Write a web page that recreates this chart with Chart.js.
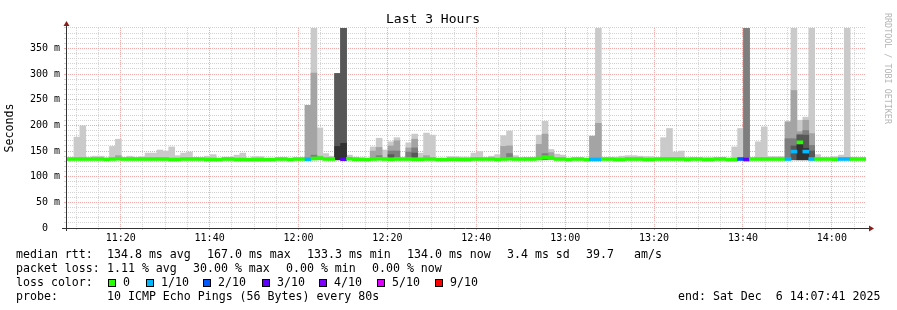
<!DOCTYPE html>
<html>
<head>
<meta charset="utf-8">
<title>Last 3 Hours</title>
<script src="https://cdn.jsdelivr.net/npm/chart.js@4.4.1/dist/chart.umd.min.js"></script>
<style>
  body { margin: 0; background: #fff; }
  #wrap { position: relative; width: 897px; height: 310px; font-family: "DejaVu Sans Mono", monospace; }
  #chart { position: absolute; left: 0; top: 0; }
  .txt { position: absolute; font-size: 11.6px; line-height: 14px; white-space: pre; color: #000; }
  .box { position: absolute; width: 8px; height: 8px; box-sizing: border-box; border: 1px solid #000; }
  #credit { position: absolute; left: 893px; top: 13px; transform: rotate(90deg); transform-origin: 0 0;
            font-size: 8.4px; line-height: 10px; color: #b4b4b4; white-space: pre; }
</style>
</head>
<body>
<div id="wrap">
  <canvas id="chart" width="897" height="310"></canvas>
  <div id="credit">RRDTOOL / TOBI OETIKER</div>
  <div id="footer"></div>
</div>
<script>
const N = null;

// 3 hour window ending Sat Dec 6 14:07:41 2025, one step every 80 s
const windowStart = 11 * 3600 + 7 * 60 + 41;   // seconds after midnight
const windowLength = 3 * 3600;
const step = 80;
const firstStepMid = -13;                      // first step straddles the left edge
const minPing = 133;                           // lower edge of the smoke (ms)

// median rtt per step (ms), null = not drawn
const median = [
  134.5, 134.5, 134.5, 134.5, 134.5, 134.5, 134.5, 134, 134.5, 135,
  134.5, 134.5, 134.5, 134.5, 134.5, 134.5, 134.5, 134.5, 133.5, 133.5,
  134.5, 134.5, 134.5, 134.5, 133.5, 133.5, 133.5, 134.5, 134.5, 133.5,
  133.5, 133.5, 133.5, 133.5, 133.5, 133.5, 134.5, 134.5, 133.5, 134.5,
  134.5, 134, 135.5, 136, 134.5, 134.5, N, 134, 135, 134,
  134, 133.5, 134.5, 135, 134.5, 134, 134.5, 134.5, 134.5, 134,
  134, 134.5, 134.5, 133.5, 133.5, 134, 134, 133.5, 133.5, 134.5,
  134.5, 134.5, 134.5, 133.5, 134.5, 135, 134.5, 134.5, 134.5, 134.5,
  135.5, 138, 136.5, 134.5, 134.5, 133.5, 134.5, 134.5, 133.5, 133.5,
  133.5, 134.5, 134.5, 133.5, 133.5, 134.5, 134.5, 134.5, 133.5, 133.5,
  134.5, 134.5, 134.5, 134.5, 134.5, 133.5, 134.5, 134.5, 133.5, 133.5,
  134.5, 134.5, 133.5, 133.5, 134.5, 133.5, 134.5, 134.5, 134.5, 134.5,
  134.5, 134.5, 134.5, 149, 167, 149, 134.5, 134.5, 134.5, 134.5,
  134, 134.5, 134.5, 134.5, 134.5, 134.5
];

// lost pings out of 10 per step
const loss = [
  0, 0, 0, 0, 0, 0, 0, 0, 0, 0,
  0, 0, 0, 0, 0, 0, 0, 0, 0, 0,
  0, 0, 0, 0, 0, 0, 0, 0, 0, 0,
  0, 0, 0, 0, 0, 0, 0, 0, 0, 0,
  0, 1, 0, 0, 0, 0, 0, 3, 0, 0,
  0, 0, 0, 0, 0, 0, 0, 0, 0, 0,
  0, 0, 0, 0, 0, 0, 0, 0, 0, 0,
  0, 0, 0, 0, 0, 0, 0, 0, 0, 0,
  0, 0, 0, 0, 0, 0, 0, 0, 0, 1,
  1, 0, 0, 0, 0, 0, 0, 0, 0, 0,
  0, 0, 0, 0, 0, 0, 0, 0, 0, 0,
  0, 0, 0, 0, 2, 3, 0, 0, 0, 0,
  0, 0, 1, 1, 0, 1, 1, 0, 0, 0,
  0, 1, 1, 0, 0, 0
];

// smoke: upper edge of each band of sorted pings (ms), outermost first
const smoke1 = [
  N, N, 177, 199, N, 140, 140, N, 159, 173,
  137, 140, 137, 139, 146, 146, 152, 150, 158, 141,
  146, 148, 137, N, 140, 143, N, 138, 138, 142,
  146, N, 139, 139, N, N, N, N, N, N,
  N, 239, 400, 195, 145, 140, 301, 400, 142, 138,
  N, N, 158, 175, 152, 168, 176, N, 166, 183,
  146, 185, 181, N, N, 139, 139, 138, 138, 146,
  149, N, 140, 143, 180, 189, 141, N, 137, 137,
  181, 208, 153, 144, 142, N, N, N, N, 179,
  400, N, N, 138, 140, 141, 141, 140, 139, 139,
  N, 176, 194, 148, 150, 138, N, N, 137, 137,
  N, 138, N, 158, 194, 400, N, 168, 197, 139,
  139, 139, 207, 400, 210, 216, 400, 143, N, N,
  139, 142, 400, 138, 136, N
];
const smoke2 = [
  N, N, N, N, N, N, N, N, N, 141,
  N, N, N, N, N, N, N, N, N, N,
  N, N, N, N, N, N, N, N, N, N,
  N, N, N, N, N, N, N, N, N, N,
  N, 239, 302, 140, N, N, 301, 400, N, N,
  N, N, 150, 157, N, 160, 170, N, 156, 173,
  N, 141, N, N, N, N, N, N, N, N,
  N, N, N, N, 159, 160, N, N, N, N,
  163, 183, 147, N, N, N, N, N, N, 179,
  204, N, N, N, N, N, N, N, N, N,
  N, N, N, N, N, N, N, N, N, N,
  N, N, N, N, N, 400, N, N, N, N,
  N, N, 207, 268, 188, 210, 184, N, N, N,
  N, N, N, N, N, N
];
const smoke3 = [
  N, N, N, N, N, N, N, N, N, N,
  N, N, N, N, N, N, N, N, N, N,
  N, N, N, N, N, N, N, N, N, N,
  N, N, N, N, N, N, N, N, N, N,
  N, N, 142, N, N, N, 301, 400, N, N,
  N, N, N, 141, N, 150, 150, N, 148, 156,
  N, N, N, N, N, N, N, N, N, N,
  N, N, N, N, N, 145, N, N, N, N,
  N, 145, N, N, N, N, N, N, N, N,
  N, N, N, N, N, N, N, N, N, N,
  N, N, N, N, N, N, N, N, N, N,
  N, N, N, N, N, 400, N, N, N, N,
  N, N, 174, 174, 183, 190, 161, N, N, N,
  N, N, N, N, N, N
];
const smoke4 = [
  N, N, N, N, N, N, N, N, N, N,
  N, N, N, N, N, N, N, N, N, N,
  N, N, N, N, N, N, N, N, N, N,
  N, N, N, N, N, N, N, N, N, N,
  N, N, N, N, N, N, 301, 400, N, N,
  N, N, N, N, N, 143, N, N, N, 146,
  N, N, N, N, N, N, N, N, N, N,
  N, N, N, N, N, N, N, N, N, N,
  N, N, N, N, N, N, N, N, N, N,
  N, N, N, N, N, N, N, N, N, N,
  N, N, N, N, N, N, N, N, N, N,
  N, N, N, N, N, N, N, N, N, N,
  N, N, N, 160, 181, 181, 150, N, N, N,
  N, N, N, N, N, N
];
const smoke5 = [
  N, N, N, N, N, N, N, N, N, N,
  N, N, N, N, N, N, N, N, N, N,
  N, N, N, N, N, N, N, N, N, N,
  N, N, N, N, N, N, N, N, N, N,
  N, N, N, N, N, N, 159, 165, N, N,
  N, N, N, N, N, N, N, N, N, N,
  N, N, N, N, N, N, N, N, N, N,
  N, N, N, N, N, N, N, N, N, N,
  N, N, N, N, N, N, N, N, N, N,
  N, N, N, N, N, N, N, N, N, N,
  N, N, N, N, N, N, N, N, N, N,
  N, N, N, N, N, N, N, N, N, N,
  N, N, N, N, 162, 155, N, N, N, N,
  N, N, N, N, N, N
];

const yTicks = [];
for (let v = 0; v <= 390; v += 10) yTicks.push(v);

const lossLevels = [0, 1, 2, 3, 4, 5, 9];
const lossLabels = ['0', '1/10', '2/10', '3/10', '4/10', '5/10', '9/10'];
const lossColors = { 0: '#26ff00', 1: '#00b8ff', 2: '#0059ff', 3: '#5e00ff', 4: '#7e00ff', 5: '#dd00ff', 9: '#ff0000' };

const bandColors = ['#cacaca', '#a4a4a4', '#7e7e7e', '#585858', '#323232'];
const GRID = '#d2d2d2';
const MGRID = '#f0a8a8';
const FONT = "'DejaVu Sans Mono', monospace";

const stepTimes = median.map((m, j) => firstStepMid + j * step);

// grid every 5 minutes, labels every 20
const gridTimes = [];
for (let c = 11 * 3600 + 10 * 60; c <= 14 * 3600 + 5 * 60; c += 300) gridTimes.push(c - windowStart);
const clockMinutes = v => Math.round((windowStart + v) / 60);
const isMajorX = v => clockMinutes(v) % 20 === 0;

function bandData(upper) {
  const out = [];
  upper.forEach((v, j) => {
    if (v === null) return;
    out.push({ x: stepTimes[j], y: [minPing, v] });
  });
  return out;
}

const lineHalf = 2.9; // LINE3 thickness in ms at this scale
const medianBars = [];
median.forEach((m, j) => {
  if (m === null) return;
  medianBars.push({ x: stepTimes[j], y: [m - lineHalf, m + lineHalf], loss: loss[j] });
});

const bands = [smoke1, smoke2, smoke3, smoke4, smoke5];
const datasets = bands.map((upper, k) => ({
  data: bandData(upper),
  backgroundColor: bandColors[k],
  order: bands.length - k          // lighter bands underneath
}));
datasets.push({
  data: medianBars,
  backgroundColor: c => (c.raw ? lossColors[c.raw.loss] : lossColors[0]),
  order: 0
});

// axis lines with the little red arrows
const axisArrows = {
  id: 'axisArrows',
  afterDatasetsDraw(chart) {
    const { ctx, chartArea: a } = chart;
    const yb = a.bottom + 0.5, xl = a.left + 0.5;
    ctx.save();
    ctx.strokeStyle = '#333';
    ctx.lineWidth = 1;
    ctx.beginPath();
    ctx.moveTo(a.left - 4, yb); ctx.lineTo(a.right + 3, yb);
    ctx.moveTo(xl, a.bottom + 3); ctx.lineTo(xl, a.top - 2);
    ctx.stroke();
    ctx.fillStyle = '#8b1d1d';
    ctx.beginPath();
    ctx.moveTo(xl, a.top - 7); ctx.lineTo(xl - 3, a.top - 2); ctx.lineTo(xl + 3, a.top - 2);
    ctx.closePath(); ctx.fill();
    ctx.beginPath();
    ctx.moveTo(a.right + 8, yb); ctx.lineTo(a.right + 3, yb - 3); ctx.lineTo(a.right + 3, yb + 3);
    ctx.closePath(); ctx.fill();
    ctx.restore();
  }
};

new Chart(document.getElementById('chart'), {
  type: 'bar',
  data: { datasets },
  plugins: [axisArrows],
  options: {
    responsive: false,
    animation: false,
    events: [],
    devicePixelRatio: 1,
    layout: { padding: { left: 0, right: 31, top: 0, bottom: 0 } },
    datasets: {
      bar: { barPercentage: 1, categoryPercentage: 1, grouped: false, borderWidth: 0 }
    },
    plugins: {
      legend: { display: false },
      tooltip: { enabled: false },
      title: {
        display: true,
        text: 'Last 3 Hours',
        color: '#000',
        font: { family: FONT, size: 13, weight: 'normal', lineHeight: 1.2 },
        padding: { top: 12.3, bottom: 0 }
      }
    },
    scales: {
      x: {
        type: 'linear',
        min: 0,
        max: windowLength,
        offset: false,
        afterBuildTicks: s => { s.ticks = gridTimes.map(v => ({ value: v })); },
        afterFit: s => { s.height = 82; },
        grid: {
          offset: false,
          color: c => (c.tick && isMajorX(c.tick.value) ? MGRID : GRID),
          tickColor: c => (c.tick && isMajorX(c.tick.value) ? MGRID : GRID),
          tickLength: 2,
          tickBorderDash: []
        },
        border: { display: false, dash: [1, 1] },
        ticks: {
          autoSkip: false,
          maxRotation: 0,
          padding: 2,
          color: '#000',
          font: { family: FONT, size: 10 },
          callback: v => {
            if (!isMajorX(v)) return '';
            const m = clockMinutes(v);
            return Math.floor(m / 60) + ':' + String(m % 60).padStart(2, '0');
          }
        }
      },
      y: {
        min: 0,
        max: 390,
        afterBuildTicks: s => { s.ticks = yTicks.map(v => ({ value: v })); },
        afterFit: s => { s.width = 66; },
        grid: {
          color: c => (c.tick && c.tick.value % 50 === 0 ? MGRID : GRID),
          tickColor: c => (c.tick && c.tick.value % 50 === 0 ? MGRID : GRID),
          tickLength: 2,
          tickBorderDash: []
        },
        border: { display: false, dash: [1, 1] },
        title: {
          display: true,
          text: 'Seconds',
          color: '#000',
          font: { family: FONT, size: 11.6, lineHeight: 1.2 },
          padding: { top: 3, bottom: 0 }
        },
        ticks: {
          autoSkip: false,
          padding: 4,
          color: '#000',
          font: { family: FONT, size: 10 },
          callback: v => (v % 50 !== 0 ? '' : v === 0 ? '0  ' : v + ' m')
        }
      }
    }
  }
});

// legend / stats block under the graph
const rowTops = [247, 261, 275, 289];
const footerRows = [
  [[16, 'median rtt:'], [107, '134.8 ms avg'], [207, '167.0 ms max'], [307, '133.3 ms min'],
   [407, '134.0 ms now'], [507, '3.4 ms sd'], [586, '39.7'], [634, 'am/s']],
  [[16, 'packet loss:'], [107, '1.11 % avg'], [193, '30.00 % max'], [286, '0.00 % min'], [372, '0.00 % now']],
  [[16, 'loss color:']],
  [[16, 'probe:'], [107, '10 ICMP Echo Pings (56 Bytes) every 80s'], [678, 'end: Sat Dec  6 14:07:41 2025']]
];
const lossBoxX = [108, 146, 203, 262, 319, 377, 435];

const footer = document.getElementById('footer');
function addText(x, top, str) {
  const el = document.createElement('div');
  el.className = 'txt';
  el.style.left = x + 'px';
  el.style.top = top + 'px';
  el.textContent = str;
  footer.appendChild(el);
}
footerRows.forEach((row, r) => row.forEach(([x, s]) => addText(x, rowTops[r], s)));
lossLevels.forEach((lv, i) => {
  const b = document.createElement('div');
  b.className = 'box';
  b.style.left = lossBoxX[i] + 'px';
  b.style.top = (rowTops[2] + 4) + 'px';
  b.style.background = lossColors[lv];
  footer.appendChild(b);
  addText(lossBoxX[i] + 15, rowTops[2], lossLabels[i]);
});
</script>
</body>
</html>
